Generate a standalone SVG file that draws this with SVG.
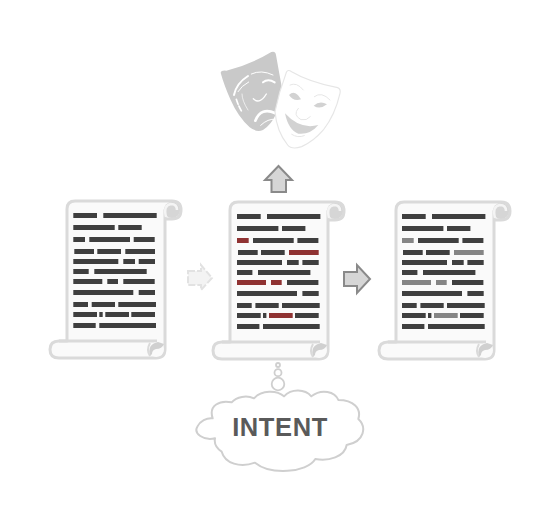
<svg xmlns="http://www.w3.org/2000/svg" width="554" height="508" viewBox="0 0 554 508">
<style>
.s{fill:#fafafa;stroke:#dadada;stroke-width:3;stroke-linejoin:round}
.b{fill:#3f3f3f}
.r{fill:#8f3232}
.g{fill:#858585}
.ar{fill:#d6d6d6;stroke:#8a8a8a;stroke-width:2}
.cl{fill:#fff;stroke:#cfcfcf;stroke-linejoin:round}
.f{fill:none;stroke:#fff;stroke-linecap:round}
.h{fill:none;stroke:#e6e6e6;stroke-width:3;stroke-linecap:round}
.e{fill:#d2d2d2}
</style>
<defs>
<g id="scroll">
<path class="s" d="M165 210V349Q165 358 156 358H59Q50 358 50 349.500Q50 341 59 341H67V209Q67 201 75 201H172Q181 201 181 210Q181 219 172 219H165Z"/>
<path fill="none" stroke="#dadada" stroke-width="3" d="M59 341H157"/>
<circle cx="172" cy="210" r="8" fill="#d6d6d6"/>
<path d="M166 217Q163 205 171 204Q177 204 177 210" fill="none" stroke="#f4f4f4" stroke-width="2.500"/>
<path d="M150 349Q150 343 157 342Q163 342 164 349Q164 356 156 357Q150 356 150 349Z" fill="#fafafa"/>
<path d="M150 356Q147 344 158 342L164 344Q162 349 156 349Q152 350 152 354Z" fill="#d0d0d0"/>
<path d="M150 343Q146 350 150 356" fill="none" stroke="#dadada" stroke-width="2"/>
</g>
<g id="bars">
<rect class="b" x="73.300" y="213" width="23.700" height="5"/><rect class="b" x="103.300" y="213" width="53.400" height="5"/>
<rect class="b" x="73.300" y="225" width="41.400" height="5"/><rect class="b" x="118.300" y="225" width="23.400" height="5"/>
<rect class="b" x="89.300" y="237" width="40.700" height="5"/><rect class="b" x="133.700" y="237" width="21" height="5"/>
<rect class="b" x="74.300" y="249" width="19.700" height="5"/><rect class="b" x="97.300" y="249" width="23.700" height="5"/>
<rect class="b" x="73.300" y="259" width="45" height="5"/><rect class="b" x="123.300" y="259" width="11.700" height="5"/><rect class="b" x="138.700" y="259" width="16.300" height="5"/>
<rect class="b" x="73.300" y="269" width="15.400" height="5"/><rect class="b" x="94.300" y="269" width="52.400" height="5"/>
<rect class="b" x="123.300" y="279" width="31.400" height="5"/>
<rect class="b" x="73.300" y="290" width="60" height="5"/><rect class="b" x="138.700" y="290" width="16.300" height="5"/>
<rect class="b" x="73.300" y="302" width="14.700" height="5"/><rect class="b" x="91.700" y="302" width="23.300" height="5"/><rect class="b" x="118.300" y="302" width="37.700" height="5"/>
<rect class="b" x="73.300" y="312" width="23.700" height="5"/><rect class="b" x="99.300" y="312" width="3.400" height="5"/><rect class="b" x="131.300" y="312" width="23.700" height="5"/>
<rect class="b" x="73.300" y="323" width="22.400" height="5"/><rect class="b" x="99.300" y="323" width="56.700" height="5"/>
</g>
</defs>
<g id="connectors">
<path id="arrow-faint" d="M188 271H201V265L212 278L201 290V285H188Z" fill="#f3f3f3" stroke="#e2e2e2" stroke-width="2" stroke-dasharray="7 2"/>
<path id="arrow-right" class="ar" d="M344 272H357V265L370 279L357 293V286H344Z"/>
<path id="arrow-up" class="ar" d="M271.500 192V180H265L278.500 166L292 180H286V192Z"/>
<g id="bubbles" fill="#fff" stroke="#cfcfcf" stroke-width="1.800">
<circle cx="278" cy="365" r="2"/><circle cx="278" cy="372.700" r="3.500"/><circle cx="278" cy="384" r="6.300"/>
</g>
</g>
<g id="masks">
<g transform="translate(218 50) scale(.3333)">
<path d="M8 68Q10 60 25 62Q95 45 160 6Q172 2 174 15Q182 60 192 115Q190 150 175 190Q160 225 135 240Q115 248 95 232Q60 200 38 150Q18 105 8 68Z" fill="#c9c9c9"/>
<g class="f">
<path d="M48 135Q55 100 90 78" stroke-width="6"/>
<path d="M60 125Q70 108 92 96" stroke-width="3"/>
<path d="M55 148Q60 165 72 186" stroke-width="5" stroke-dasharray="16 6"/>
<path d="M72 132Q72 152 90 180" stroke-width="2"/>
<path d="M100 72Q130 58 165 75" stroke-width="3"/>
<path d="M135 97Q150 84 170 97" stroke-width="6"/>
<path d="M106 146Q125 165 145 132" stroke-width="4"/>
<path d="M112 212Q130 170 172 190" stroke-width="8"/>
<path d="M128 226Q150 205 172 208" stroke-width="3"/>
</g>
</g>
<g transform="translate(275 65) scale(.3333)">
<path d="M34 22Q38 12 50 20Q100 50 188 68Q198 72 195 85Q180 150 145 195Q115 230 80 245Q50 255 38 240Q5 200 0 140Q12 80 34 22Z" fill="#fff" stroke="#e6e6e6" stroke-width="3.500"/>
<path class="e" d="M42 90Q60 72 78 103Q55 110 42 90Z"/>
<path class="e" d="M116 122Q135 105 156 118Q135 135 116 122Z"/>
<path class="e" d="M30 145Q75 195 130 180Q105 210 70 206Q40 195 30 145Z"/>
<path class="h" d="M45 60Q65 50 85 75"/>
<path class="h" d="M118 95Q140 78 165 105"/>
<path class="h" d="M70 130Q52 150 78 164Q95 168 106 155"/>
<path class="h" d="M50 208Q68 220 88 212"/>
</g>
</g>
<g id="doc-original">
<use href="#scroll"/>
<use href="#bars"/>
<rect class="b" x="73.300" y="237" width="11.700" height="5"/>
<rect class="b" x="125.300" y="249" width="29.700" height="5"/>
<rect class="b" x="73.300" y="279" width="29" height="5"/><rect class="b" x="107.300" y="279" width="10.700" height="5"/>
<rect class="b" x="105.300" y="312" width="23.700" height="5"/>
</g>
<g id="doc-marked" transform="translate(163.700 1)">
<use href="#scroll" x="-.7"/>
<use href="#bars"/>
<rect class="r" x="73.300" y="237" width="11.700" height="5"/>
<rect class="r" x="125.300" y="249" width="29.700" height="5"/>
<rect class="r" x="73.300" y="279" width="29" height="5"/><rect class="r" x="107.300" y="279" width="10.700" height="5"/>
<rect class="r" x="105.300" y="312" width="23.700" height="5"/>
</g>
<g id="doc-softened" transform="translate(328.700 1)">
<use href="#scroll" x=".3"/>
<use href="#bars"/>
<rect class="g" x="73.300" y="237" width="11.700" height="5"/>
<rect class="g" x="125.300" y="249" width="29.700" height="5"/>
<rect class="g" x="73.300" y="279" width="29" height="5"/><rect class="g" x="107.300" y="279" width="10.700" height="5"/>
<rect class="g" x="105.300" y="312" width="23.700" height="5"/>
</g>
<g id="intent">
<path class="cl" transform="translate(190 355) scale(.3333)" style="stroke-width:6" d="M68 190C55 150 90 135 125 142C140 125 170 120 192 130C215 105 260 105 282 124C305 100 345 102 364 124C395 100 435 110 445 135C490 135 515 160 505 192C530 215 525 260 470 270C465 305 415 320 376 312C350 355 240 360 195 323C150 340 105 325 95 290C80 280 72 265 75 250C40 258 10 235 22 215C30 198 50 188 68 190Z"/>
<text x="280" y="436" text-anchor="middle" font-family="'Liberation Sans',Arial,sans-serif" font-weight="700" font-size="25.500" letter-spacing=".6" fill="#5a5a5a">INTENT</text>
</g>
</svg>
